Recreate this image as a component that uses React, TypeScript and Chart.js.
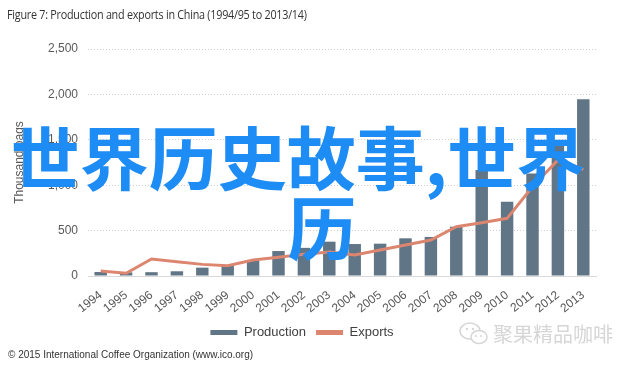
import React, { useEffect, useRef } from 'react';
import { Chart, registerables } from 'chart.js';

Chart.register(...registerables);

const categories = ['1994', '1995', '1996', '1997', '1998', '1999', '2000', '2001', '2002', '2003', '2004', '2005', '2006', '2007', '2008', '2009', '2010', '2011', '2012', '2013'];
const production = [44, 40, 42, 52, 92, 121, 170, 275, 310, 378, 352, 356, 415, 430, 543, 1167, 818, 1130, 1480, 1946];
const exportsData = [55, 30, 187, 158, 128, 114, 176, 206, 239, 265, 231, 286, 341, 396, 543, 587, 635, 983, 1277, 1175];
const yTicks = [0, 500, 1000, 1500, 2000, 2500];

const BAR = '#607586';
const LINE = '#dc8670';
const TXT = '#595959';
const FONT = "'Liberation Sans', Arial, sans-serif";

export default function App() {
  const ref = useRef<HTMLCanvasElement>(null);
  useEffect(() => {
    document.body.style.margin = '0';
    const chart = new Chart(ref.current!, {
      type: 'bar',
      data: {
        labels: categories,
        datasets: [
          {
            type: 'bar',
            label: 'Production',
            data: production,
            backgroundColor: BAR,
            borderWidth: 0,
            categoryPercentage: 1,
            barPercentage: 0.49,
            order: 1,
          } as any,
          {
            type: 'line',
            label: 'Exports',
            data: exportsData,
            borderColor: LINE,
            backgroundColor: LINE,
            borderWidth: 3,
            pointRadius: 0,
            tension: 0,
            order: 0,
          } as any,
        ],
      },
      options: {
        animation: false,
        responsive: false,
        maintainAspectRatio: false,
        layout: { padding: { top: 49, left: 8, right: 44, bottom: 17 } },
        plugins: {
          tooltip: { enabled: false },
          title: { display: false },
          legend: {
            position: 'bottom',
            labels: {
              boxWidth: 27,
              boxHeight: 5,
              padding: 10,
              color: '#404040',
              font: { family: FONT, size: 13 },
              sort: (a: any, b: any) => a.datasetIndex - b.datasetIndex,
              generateLabels: (c: any) =>
                (Chart.defaults.plugins.legend.labels.generateLabels as any)(c).map((l: any) => ({ ...l, lineWidth: 0 })),
            },
          },
        },
        scales: {
          x: {
            grid: { display: false },
            border: { display: true, color: '#d9d9d9' },
            ticks: {
              color: TXT,
              font: { family: FONT, size: 12 },
              autoSkip: false,
              minRotation: 38,
              maxRotation: 38,
              padding: 4,
            },
            afterFit: (s: any) => { s.height = 40; },
          },
          y: {
            min: 0,
            max: 2500,
            afterBuildTicks: (s: any) => { s.ticks = yTicks.map((v) => ({ value: v })); },
            ticks: {
              color: TXT,
              font: { family: FONT, size: 12 },
              padding: 10,
              callback: (v: any) => Number(v).toLocaleString('en-US'),
            },
            grid: { color: '#cfcfcf', drawTicks: false, lineWidth: 1 },
            border: { display: false, dash: [1, 2] },
            title: {
              display: true,
              text: 'Thousand bags',
              color: TXT,
              font: { family: FONT, size: 12 },
              padding: { top: 4, bottom: 0 },
            },
            afterFit: (s: any) => { s.width = 80; },
          },
        },
      },
    });
    return () => chart.destroy();
  }, []);

  return (
    <div style={{ position: 'relative', width: 640, height: 366, background: '#fff', overflow: 'hidden' }}>
      <canvas ref={ref} width={640} height={366} style={{ position: 'absolute', left: 0, top: 0, width: 640, height: 366 }} />
      <div style={{ position: 'absolute', left: 7, top: 5, fontFamily: "'Open Sans', sans-serif", fontSize: 13, color: '#333', whiteSpace: 'nowrap', letterSpacing: -0.3, transform: 'scaleX(0.83)', transformOrigin: 'left top' }}>
        Figure 7: Production and exports in China (1994/95 to 2013/14)
      </div>
      <div style={{ position: 'absolute', left: 8, top: 349, fontFamily: FONT, fontSize: 10, color: '#333', whiteSpace: 'nowrap' }}>
        © 2015 International Coffee Organization (www.ico.org)
      </div>
      <div style={{ position: 'absolute', left: 458, top: 319, display: 'flex', alignItems: 'center', color: '#d6d6d6', fontFamily: "'Noto Sans CJK SC', sans-serif", fontSize: 20, whiteSpace: 'nowrap' }}>
        <svg width="32" height="26" viewBox="0 0 32 26" style={{ marginRight: 3 }}>
          <ellipse cx="12" cy="10" rx="10" ry="8" fill="none" stroke="#d6d6d6" strokeWidth="1.5" />
          <ellipse cx="21" cy="16" rx="8" ry="6.5" fill="#fff" stroke="#d6d6d6" strokeWidth="1.5" />
          <circle cx="9" cy="8" r="1.2" fill="#d6d6d6" />
          <circle cx="15" cy="8" r="1.2" fill="#d6d6d6" />
          <circle cx="18" cy="15" r="1" fill="#d6d6d6" />
          <circle cx="23" cy="15" r="1" fill="#d6d6d6" />
        </svg>
        聚果精品咖啡
      </div>
      <div style={{ position: 'absolute', left: 0, width: 596, top: 120, textAlign: 'center', color: '#1e8cf5', fontFamily: "'Noto Sans CJK SC', sans-serif", fontWeight: 700, fontSize: 69, lineHeight: '70px', whiteSpace: 'nowrap' }}>
        世界历史故事,世界
      </div>
      <div style={{ position: 'absolute', left: 0, width: 644, top: 190, textAlign: 'center', color: '#1e8cf5', fontFamily: "'Noto Sans CJK SC', sans-serif", fontWeight: 700, fontSize: 69, lineHeight: '70px', whiteSpace: 'nowrap' }}>
        历
      </div>
    </div>
  );
}
